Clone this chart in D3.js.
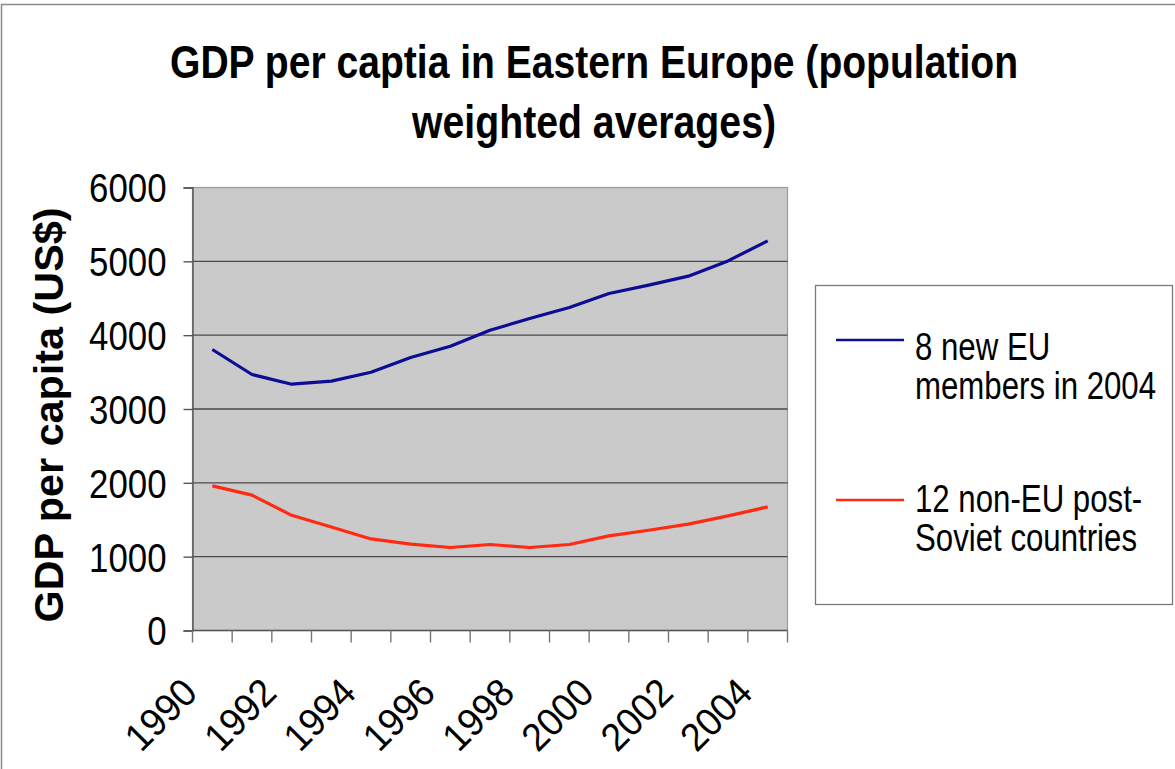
<!DOCTYPE html>
<html lang="en">
<head>
<meta charset="UTF-8">
<title>GDP per capita Eastern Europe</title>
<script src="https://cdn.jsdelivr.net/npm/d3@7"></script>
<style>
    body { margin:0; background:#fff; }
    svg text { font-family:"Liberation Sans", Arial, sans-serif; fill:#000; }
</style>
</head>
<body>
<svg width="1175" height="769"></svg>
<script>
    // data
    var years = [1990,1991,1992,1993,1994,1995,1996,1997,1998,1999,2000,2001,2002,2003,2004];
    var eu8 = [3806,3467,3336,3377,3498,3697,3851,4067,4226,4375,4564,4677,4799,5006,5277];
    var nonEu12 = [1959,1833,1560,1403,1240,1169,1124,1165,1124,1165,1282,1358,1440,1552,1674];
    var yTicks = [0,1000,2000,3000,4000,5000,6000];
    var xLabels = [1990,1992,1994,1996,1998,2000,2002,2004];
    var seriesNames = [["8 new EU","members in 2004"],["12 non-EU post-","Soviet countries"]];
    var seriesColors = ["#0c0c94","#ff2a12"];

    var svg = d3.select("svg");

    // outer frame (only top and left visible)
    svg.append("rect")
        .attr("x",1.5).attr("y",4.5)
        .attr("width",1200).attr("height",800)
        .attr("fill","none").attr("stroke","#8a8a8a").attr("stroke-width",1.5);

    // squeeze text horizontally like the picture
    function squeeze(sel, k){
        sel.each(function(){
            var w = this.getComputedTextLength();
            d3.select(this).attr("textLength", w*k).attr("lengthAdjust","spacingAndGlyphs");
        });
    }

    var pLeft = 192.5, pRight = 787.5, pTop = 187.5, pBottom = 630.5;

    var x = d3.scaleBand().domain(years).range([pLeft,pRight]);
    var y = d3.scaleLinear().domain([0,6000]).range([pBottom,pTop]);
    var cx = function(d){ return x(d) + x.bandwidth()/2; };

    // plot area
    svg.append("rect")
        .attr("x",pLeft).attr("y",pTop)
        .attr("width",pRight-pLeft).attr("height",pBottom-pTop)
        .attr("fill","#cacaca").attr("stroke","#9a9a9a").attr("stroke-width",1.2);

    // gridlines
    svg.append("g").selectAll("line")
        .data(yTicks.filter(function(d){ return d>0 && d<6000; }))
        .enter().append("line")
        .attr("x1",pLeft).attr("x2",pRight)
        .attr("y1",function(d){ return y(d); }).attr("y2",function(d){ return y(d); })
        .attr("stroke","#4a4a4a").attr("stroke-width",1.4);

    // y axis
    var yAxis = svg.append("g")
        .attr("transform","translate("+pLeft+",0)")
        .call(d3.axisLeft(y).tickValues(yTicks).tickSize(9).tickPadding(17).tickFormat(d3.format("d")));
    yAxis.select(".domain").attr("stroke","#555").attr("stroke-width",1.4);
    yAxis.selectAll(".tick line").attr("stroke","#555").attr("stroke-width",1.4);
    yAxis.selectAll(".tick text")
        .attr("font-size",40).attr("font-family","'Liberation Sans', Arial, sans-serif")
        .attr("dy","0.36em").attr("fill","#000");
    squeeze(yAxis.selectAll(".tick text"), 0.87);

    // x axis line + ticks at category boundaries
    var xg = svg.append("g");
    xg.append("line")
        .attr("x1",pLeft).attr("x2",pRight).attr("y1",pBottom).attr("y2",pBottom)
        .attr("stroke","#555").attr("stroke-width",1.4);
    xg.selectAll(".xt")
        .data(years.concat(["end"]))
        .enter().append("line")
        .attr("class","xt")
        .attr("x1",function(d){ return d==="end" ? pRight : x(d); })
        .attr("x2",function(d){ return d==="end" ? pRight : x(d); })
        .attr("y1",pBottom).attr("y2",pBottom+12)
        .attr("stroke","#777").attr("stroke-width",1.4);

    var xl = xg.selectAll(".xl")
        .data(xLabels)
        .enter().append("text")
        .attr("class","xl")
        .attr("text-anchor","end")
        .attr("font-size",39)
        .attr("transform",function(d){ return "translate("+(cx(d)-13)+",695) rotate(-45)"; })
        .text(function(d){ return d; });
    squeeze(xl, 0.95);

    // lines
    var line = d3.line()
        .x(function(d,i){ return cx(years[i]); })
        .y(function(d){ return y(d); });
    [eu8, nonEu12].forEach(function(s,i){
        svg.append("path")
            .datum(s)
            .attr("d",line)
            .attr("fill","none")
            .attr("stroke",seriesColors[i])
            .attr("stroke-width",3.2)
            .attr("stroke-linejoin","round");
    });

    // y axis title
    var yt = svg.append("text")
        .attr("transform","translate(63,415) rotate(-90)")
        .attr("text-anchor","middle")
        .attr("font-size",40).attr("font-weight","bold")
        .text("GDP per capita (US$)");
    yt.attr("textLength",415).attr("lengthAdjust","spacingAndGlyphs");

    // title
    var titleLines = ["GDP per captia in Eastern Europe (population","weighted averages)"];
    var titleLen = [848,364];
    svg.selectAll(".title")
        .data(titleLines)
        .enter().append("text")
        .attr("class","title")
        .attr("x",594)
        .attr("y",function(d,i){ return 78 + i*60; })
        .attr("text-anchor","middle")
        .attr("font-size",47).attr("font-weight","bold")
        .attr("textLength",function(d,i){ return titleLen[i]; })
        .attr("lengthAdjust","spacingAndGlyphs")
        .text(function(d){ return d; });

    // legend
    var lg = svg.append("g");
    lg.append("rect")
        .attr("x",815.5).attr("y",285.5).attr("width",357).attr("height",319)
        .attr("fill","#fff").attr("stroke","#7a7a7a").attr("stroke-width",1.3);
    var lineY = [340,500], textY = [360,512];
    seriesNames.forEach(function(names,i){
        lg.append("line")
            .attr("x1",836).attr("x2",904)
            .attr("y1",lineY[i]).attr("y2",lineY[i])
            .attr("stroke",seriesColors[i]).attr("stroke-width",2.5);
        var t = lg.selectAll(".lt"+i)
            .data(names)
            .enter().append("text")
            .attr("class","lt"+i)
            .attr("x",915)
            .attr("y",function(d,j){ return textY[i] + j*38.5; })
            .attr("font-size",39)
            .text(function(d){ return d; });
        squeeze(t, 0.8);
    });
</script>
</body>
</html>
